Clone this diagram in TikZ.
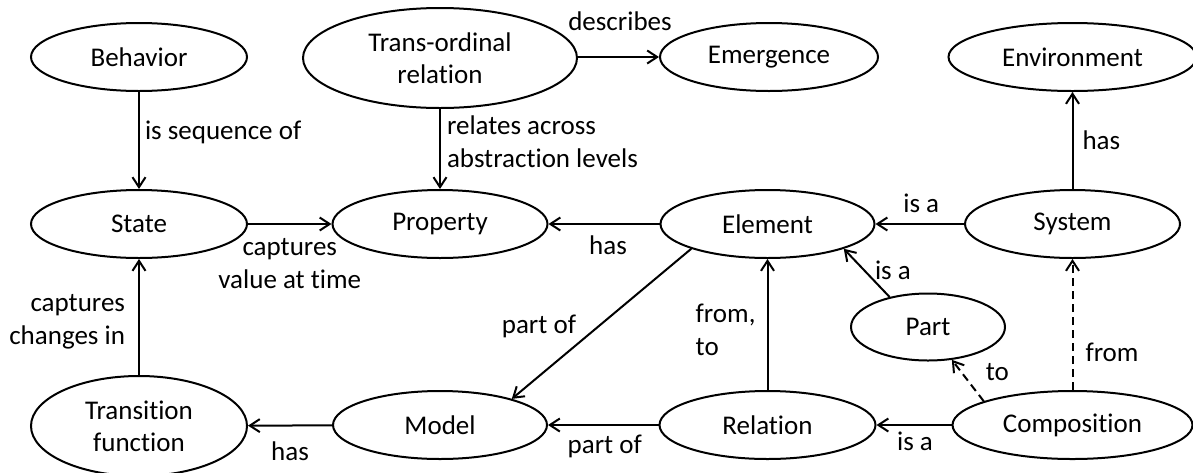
\documentclass[tikz,border=0pt]{standalone}
\usepackage{fontspec}
\setmainfont{Carlito}[Ligatures=NoCommon]
\usetikzlibrary{arrows.meta,shapes.geometric}
\begin{document}
\begin{tikzpicture}[x=1pt,y=-1pt,
  ent/.style={ellipse,draw,line width=2pt,inner sep=0pt,align=center,font=\fontsize{27}{32}\selectfont},
  conn/.style={line width=2pt,-{Straight Barb[length=10pt,width=13pt]}},
  dashconn/.style={conn,dash pattern=on 8pt off 5pt},
  lbl/.style={inner sep=0pt,font=\fontsize{27}{33}\selectfont},
]
\useasboundingbox (0,0) rectangle (1193,472);
% nodes
\node[ent,minimum width=216pt,minimum height=68pt] (behavior) at (139,57) {Behavior};
\node[ent,minimum width=274pt,minimum height=100pt] (trans) at (440,58) {Trans-ordinal\\relation};
\node[ent,minimum width=218pt,minimum height=68pt] (emergence) at (769,57) {Emergence};
\node[ent,minimum width=248pt,minimum height=68pt] (environment) at (1072.5,57) {Environment};
\node[ent,minimum width=216pt,minimum height=68pt] (state) at (139,224) {State};
\node[ent,minimum width=215pt,minimum height=68pt] (property) at (440,224) {Property};
\node[ent,minimum width=214pt,minimum height=68pt] (element) at (767.5,224) {Element};
\node[ent,minimum width=215pt,minimum height=68pt] (system) at (1072.5,224) {System};
\node[ent,minimum width=154pt,minimum height=67pt] (part) at (928,327) {Part};
\node[ent,minimum width=216pt,minimum height=100pt] (transition) at (139,426) {Transition\\function};
\node[ent,minimum width=214pt,minimum height=68pt] (model) at (440,425) {Model};
\node[ent,minimum width=216pt,minimum height=68pt] (relation) at (767.5,425) {Relation};
\node[ent,minimum width=240pt,minimum height=68pt] (composition) at (1072.5,425) {Composition};
% connectors
\draw[conn] (behavior) -- node[lbl,anchor=west,pos=0.42,xshift=5pt]{is sequence of} (state);
\draw[conn] (trans) -- node[lbl,anchor=west,align=left,pos=0.41,xshift=6pt]{relates across\\abstraction levels} (property);
\draw[conn] (trans.east |- emergence) -- node[lbl,pos=0.5,xshift=1.5pt,yshift=36pt]{describes} (emergence);
\draw[conn] (state) -- node[lbl,align=center,pos=0.5,yshift=-40pt]{captures\\value at time} (property);
\draw[conn] (element) -- node[lbl,pos=0.5,xshift=4pt,yshift=-21pt]{has} (property);
\draw[conn] (system) -- node[lbl,pos=0.5,xshift=1.5pt,yshift=21pt]{is a} (element);
\draw[conn] (system) -- node[lbl,anchor=west,pos=0.5,xshift=9pt]{has} (environment);
\draw[conn] (element.198.7) -- node[lbl,pos=0.52,xshift=-59pt]{part of} (model.20.9);
\draw[conn] (relation) -- node[lbl,anchor=east,align=left,pos=0.46,xshift=-11pt]{from,\\to} (element);
\draw[conn] (part.142) -- node[lbl,pos=0.56,xshift=29pt]{is a} (element.342);
\draw[dashconn] (composition.165) -- node[lbl,pos=0.70,xshift=36pt]{to} (part.306);
\draw[dashconn] (composition) -- node[lbl,anchor=west,pos=0.29,xshift=12pt]{from} (system);
\draw[conn] (composition) -- node[lbl,pos=0.5,xshift=1pt,yshift=-16pt]{is a} (relation);
\draw[conn] (relation) -- node[lbl,pos=0.5,xshift=1.5pt,yshift=-21pt]{part of} (model);
\draw[conn] (model) -- node[lbl,pos=0.5,yshift=-26pt]{has} (transition);
\draw[conn] (transition) -- node[lbl,anchor=east,align=right,pos=0.455,xshift=-13pt]{captures\\changes in} (state);
\end{tikzpicture}
\end{document}
